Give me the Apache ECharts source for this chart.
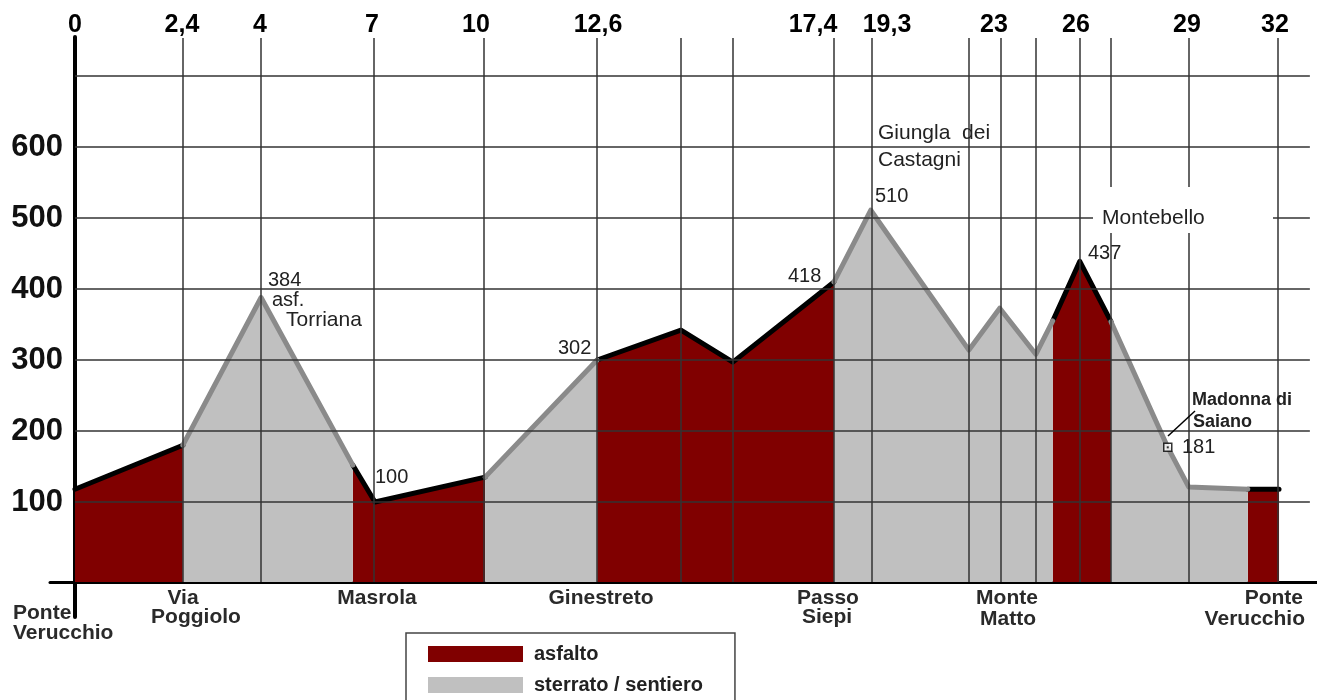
<!DOCTYPE html>
<html><head><meta charset="utf-8">
<script src="https://cdn.jsdelivr.net/npm/echarts@6/dist/echarts.min.js"></script>
<style>html,body{margin:0;padding:0;background:#fff}#c{width:1317px;height:700px}</style>
</head><body><div id="c"></div>
<script>
// Position along the drawn profile (drawing units; 32 = arrival at Ponte Verucchio)
const position  = [0, 2.87, 4.95, 7.39, 7.98, 10.91, 13.89, 16.12, 17.50, 20.19, 21.17, 23.78, 24.60, 25.56, 26.01, 26.73, 27.56, 29.07, 29.63, 31.20, 32.03];
// Elevation (m) at each point
const elevation = [118, 180, 388, 152, 100, 135, 300, 342, 297, 410, 511, 314, 373, 308, 355, 439, 354, 177, 121, 118, 118];
// Surface of the stretch starting at each point: A = asfalto, S = sterrato / sentiero
const surface   = ['A','S','S','A','A','S','A','A','A','S','S','S','S','S','A','A','S','S','S','A',''];
// Vertical reference lines (drawing units)
const gridLinesX = [2.87, 4.95, 7.95, 10.88, 13.89, 16.12, 17.50, 20.19, 21.20, 23.78, 24.63, 25.56, 26.73, 27.56, 29.63, 32.0];
// Horizontal reference lines (m)
const elevationTicks = [100, 200, 300, 400, 500, 600, 700];
// Km labels along the top
const kmLabels = ['0', '2,4', '4', '7', '10', '12,6', '17,4', '19,3', '23', '26', '29', '32'];
// Point index of Madonna di Saiano marker
const saianoIdx = 17;

const FONT = '"Liberation Sans", Arial, Helvetica, sans-serif';
const AXIS_BASE = -12.7;   // value where the distance axis line sits
const TOP_VAL = 753.5;     // top end of the vertical lines
const RIGHT_VAL = 32.85;   // right end of the horizontal lines

function buildSeries(kind) {
  const out = [];
  let open = false;
  for (let i = 0; i < position.length - 1; i++) {
    if (surface[i] === kind) {
      if (!open) { out.push([position[i], elevation[i]]); open = true; }
      out.push([position[i + 1], elevation[i + 1]]);
    } else if (open) {
      out.push([position[i], null]); open = false;
    }
  }
  return out;
}
const dataA = buildSeries('A');
const dataS = buildSeries('S');

const gridLines = [];
elevationTicks.forEach(v => {
  gridLines.push([
    {coord: [0, v], name: String(v), label: {show: v !== 700}},
    {coord: [RIGHT_VAL, v]}
  ]);
});
gridLinesX.forEach(x => {
  gridLines.push([{coord: [x, AXIS_BASE], label: {show: false}}, {coord: [x, TOP_VAL]}]);
});

function txt(text, x, y, o) {
  o = o || {};
  const size = o.size || 20, weight = o.weight || 'normal';
  const align = o.align || 'left';
  return {
    type: 'text', z: 11, silent: true,
    style: {
      text: text, x: x, y: y, fill: o.color || '#222',
      font: weight + ' ' + size + 'px ' + FONT,
      align: align, textAlign: align, verticalAlign: 'middle', textVerticalAlign: 'middle'
    }
  };
}
const kmX = [75, 182, 260, 372, 476, 598, 813, 887, 994, 1076, 1187, 1275];
const graphics = [];
kmLabels.forEach((t, i) => graphics.push(txt(t, kmX[i], 25, {size: 25, weight: 'bold', align: 'center', color: '#000'})));
// annotations
graphics.push(
  txt('384', 268, 280), txt('asf.', 272, 300), txt('Torriana', 286, 320, {size: 21}),
  txt('100', 375, 477), txt('302', 558, 348), txt('418', 788, 276),
  txt('Giungla  dei', 878, 133, {size: 21}), txt('Castagni', 878, 160, {size: 21}), txt('510', 875, 196),
  txt('437', 1088, 253),
  {type: 'rect', z: 10, silent: true, shape: {x: 1093, y: 187, width: 180, height: 46}, style: {fill: '#fff'}},
  txt('Montebello', 1102, 218, {size: 21}),
  {type: 'line', z: 11, silent: true, shape: {x1: 1168, y1: 436, x2: 1195, y2: 411}, style: {stroke: '#000', lineWidth: 1.5}},
  txt('Madonna di', 1192, 400, {size: 18, weight: 'bold'}), txt('Saiano', 1193, 422, {size: 18, weight: 'bold'}),
  txt('181', 1182, 447)
);
// place names under the axis
const B = {size: 21, weight: 'bold', color: '#2a2a2a'};
const C = Object.assign({align: 'center'}, B);
const R = Object.assign({align: 'right'}, B);
graphics.push(
  txt('Ponte', 13, 613, B), txt('Verucchio', 13, 633, B),
  txt('Via', 183, 598, C), txt('Poggiolo', 196, 617, C),
  txt('Masrola', 377, 598, C),
  txt('Ginestreto', 601, 598, C),
  txt('Passo', 828, 598, C), txt('Siepi', 827, 617, C),
  txt('Monte', 1007, 598, C), txt('Matto', 1008, 619, C),
  txt('Ponte', 1303, 598, R), txt('Verucchio', 1305, 619, R)
);

const chart = echarts.init(document.getElementById('c'), null, {renderer: 'canvas'});
chart.setOption({
  animation: false,
  backgroundColor: '#fff',
  grid: {left: 50, right: 0, top: 37, bottom: 83, containLabel: false},
  xAxis: {
    type: 'value', min: -0.665, max: 33.04, offset: -35,
    axisLine: {show: true, onZero: false, lineStyle: {color: '#000', width: 3}},
    axisTick: {show: false}, axisLabel: {show: false}, splitLine: {show: false}
  },
  yAxis: {
    type: 'value', min: -62, max: 755, offset: -25,
    axisLine: {show: true, onZero: false, lineStyle: {color: '#000', width: 4}},
    axisTick: {show: false}, axisLabel: {show: false}, splitLine: {show: false}
  },
  legend: {
    type: 'plain', orient: 'vertical', align: 'left',
    left: 406, top: 633, width: 276, height: 80, selectedMode: false,
    padding: [11, 32, 10, 22], itemGap: 11, itemWidth: 95, itemHeight: 16,
    borderColor: '#444', borderWidth: 1.5, backgroundColor: '#fff', icon: 'rect',
    textStyle: {fontFamily: FONT, fontSize: 20, fontWeight: 'bold', color: '#222', lineHeight: 20, padding: [0, 0, 0, 6]},
    data: [
      {name: 'asfalto', itemStyle: {color: '#800000', borderWidth: 0}},
      {name: 'sterrato / sentiero', itemStyle: {color: '#c0c0c0', borderWidth: 0}}
    ]
  },
  graphic: graphics,
  series: [
    {
      name: 'asfalto', type: 'line', data: dataA, z: 2, showSymbol: false, silent: true,
      color: '#800000', lineStyle: {width: 0, opacity: 0},
      areaStyle: {color: '#800000', opacity: 1, origin: AXIS_BASE}
    },
    {
      name: 'sterrato / sentiero', type: 'line', data: dataS, z: 2, showSymbol: false, silent: true,
      color: '#c0c0c0', lineStyle: {width: 0, opacity: 0},
      areaStyle: {color: '#c0c0c0', opacity: 1, origin: AXIS_BASE}
    },
    {
      name: 'griglia', type: 'line', data: [], z: 3, silent: true,
      markLine: {
        silent: true, symbol: ['none', 'none'], animation: false,
        lineStyle: {color: '#333', width: 1.5, type: 'solid'},
        label: {show: true, position: 'start', distance: 12, formatter: '{b}', fontFamily: FONT, fontSize: 31, fontWeight: 'bold', color: '#111'},
        emphasis: {disabled: true},
        data: gridLines
      }
    },
    {
      name: 'profilo asfalto', type: 'line', data: dataA, z: 4, showSymbol: false, silent: true,
      lineStyle: {color: '#000', width: 5, cap: 'round', join: 'round'}
    },
    {
      name: 'profilo sterrato', type: 'line', data: dataS, z: 4, showSymbol: false, silent: true,
      lineStyle: {color: '#8a8a8a', width: 5, cap: 'round', join: 'round'}
    },
    {
      name: 'Madonna di Saiano', type: 'scatter', z: 5, silent: true,
      data: [[position[saianoIdx], elevation[saianoIdx]]],
      symbol: 'rect', symbolSize: 8,
      itemStyle: {color: '#fff', borderColor: '#000', borderWidth: 1.5}
    },
    {
      name: 'Madonna di Saiano punto', type: 'scatter', z: 6, silent: true,
      data: [[position[saianoIdx], elevation[saianoIdx]]],
      symbol: 'rect', symbolSize: 2, itemStyle: {color: '#000'}
    }
  ]
});
</script>
</body></html>
